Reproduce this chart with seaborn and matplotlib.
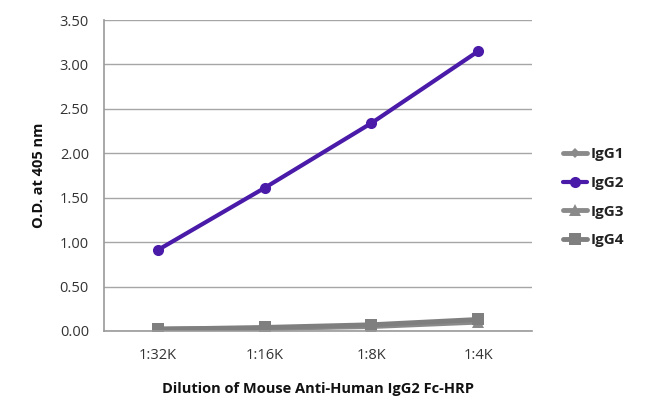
import pandas as pd
import numpy as np
import seaborn as sns
import matplotlib.pyplot as plt

dilutions = ["1:32K", "1:16K", "1:8K", "1:4K"]
igg1 = [0.02, 0.03, 0.06, 0.12]
igg2 = [0.91, 1.61, 2.34, 3.15]
igg3 = [0.02, 0.03, 0.05, 0.10]
igg4 = [0.02, 0.04, 0.07, 0.13]
series_names = ["IgG1", "IgG2", "IgG3", "IgG4"]

rows = []
for name, vals in zip(series_names, [igg1, igg2, igg3, igg4]):
    for i, v in enumerate(vals):
        rows.append({"pos": i, "od": v, "series": name})
df = pd.DataFrame(rows)

sns.set_style("white")
plt.rcParams['font.family'] = ['Open Sans', 'DejaVu Sans']

palette = {"IgG1": "#8a8a8a", "IgG2": "#4a1aa8", "IgG3": "#8a8a8a", "IgG4": "#7f7f7f"}
markers = {"IgG1": "D", "IgG2": "o", "IgG3": "^", "IgG4": "s"}
msize = {"IgG1": 5, "IgG2": 8, "IgG3": 8, "IgG4": 9}
lw = {"IgG1": 3.5, "IgG2": 3, "IgG3": 3.5, "IgG4": 3.5}

fig = plt.figure(figsize=(6.51, 4.0), dpi=100)
ax = fig.add_axes([0.16, 0.1725, 0.657, 0.7775])

for name in series_names:
    sub = df[df.series == name]
    sns.lineplot(data=sub, x="pos", y="od", ax=ax, color=palette[name],
                 marker=markers[name], markersize=msize[name], linewidth=lw[name],
                 markeredgewidth=0, label=name, zorder=3 if name == "IgG2" else 2)

ax.set_xlim(-0.5, 3.5)
ax.set_ylim(0, 3.5)
ax.set_yticks(np.arange(0, 3.51, 0.5))
ax.set_yticklabels([f"{t:.2f}" for t in np.arange(0, 3.51, 0.5)])
ax.set_xticks(range(4))
ax.set_xticklabels(dilutions)
ax.set_xticks([0.5, 1.5, 2.5], minor=True)
ax.tick_params(axis="x", which="major", length=0, pad=12, labelsize=10.5, colors="#333333")
ax.tick_params(axis="x", which="minor", length=5, color="#999999", width=1, direction="out")
ax.tick_params(axis="y", length=5, color="#999999", width=1, direction="out", pad=6, labelsize=10.5, labelcolor="#333333")
ax.yaxis.grid(True, color="#a6a6a6", linewidth=1)
ax.set_axisbelow(True)
for s in ["top", "right"]:
    ax.spines[s].set_visible(False)
for s in ["left", "bottom"]:
    ax.spines[s].set_color("#999999")
    ax.spines[s].set_linewidth(1.2)

ax.set_xlabel("Dilution of Mouse Anti-Human IgG2 Fc-HRP", fontsize=10.5, fontweight="bold", labelpad=14, color="#111111")
ax.set_ylabel("O.D. at 405 nm", fontsize=10.5, fontweight="bold", labelpad=10, color="#111111")

leg = ax.legend(loc="center left", bbox_to_anchor=(1.04, 0.43), frameon=False,
                handlelength=1.6, handletextpad=0.2, labelspacing=0.95, fontsize=11)
for t in leg.get_texts():
    t.set_fontweight("bold")
    t.set_color("#222222")

plt.savefig("out.png", dpi=100)
